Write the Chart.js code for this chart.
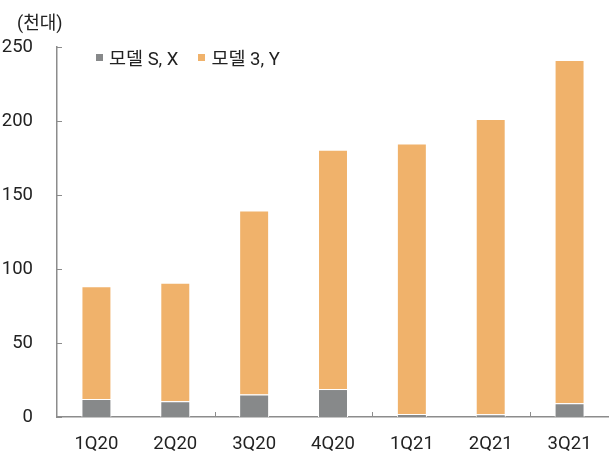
<!DOCTYPE html>
<html>
<head>
<meta charset="utf-8">
<script src="https://cdn.jsdelivr.net/npm/chart.js@4/dist/chart.umd.min.js"></script>
<style>
  html, body { margin:0; padding:0; background:#fff; }
  #wrap { position:relative; width:609px; height:451px; font-family:Roboto,'Noto Sans CJK KR',sans-serif; color:#222; }
  canvas { position:absolute; left:0; top:0; }
  .unit { position:absolute; left:17px; top:8px; font-size:18px; }
  .legend { position:absolute; left:96px; top:44px; font-size:18.5px; display:flex; align-items:center; }
  .legend span.box { display:inline-block; width:7px; height:7px; margin-right:6px; }
  .legend .item { display:flex; align-items:center; margin-right:20px; }
</style>
</head>
<body>
<div id="wrap">
  <canvas id="c" width="609" height="451"></canvas>
  <div class="unit">(천대)</div>
  <div class="legend" id="legend"></div>
</div>
<script>
// quarterly deliveries, thousand units
const quarters = ['1Q20','2Q20','3Q20','4Q20','1Q21','2Q21','3Q21'];
const modelSX = [12.2, 10.6, 15.2, 18.9, 2.0, 1.9, 9.3];
const model3Y = [76.2, 80.1, 124.3, 161.7, 182.8, 199.4, 232.0];
const seriesNames = ['모델 S, X', '모델 3, Y'];
const colors = ['#87898a', '#f0b26b'];

const axisColor = '#8c8c8c';
const fontFamily = "Roboto,'Noto Sans CJK KR',sans-serif";

// Excel-style inside tick marks
const insideTicks = {
  id: 'insideTicks',
  afterDraw(chart) {
    const ctx = chart.ctx, x = chart.scales.x, y = chart.scales.y;
    ctx.save();
    ctx.strokeStyle = axisColor;
    ctx.lineWidth = 1;
    ctx.beginPath();
    y.ticks.forEach(t => {
      const py = Math.round(y.getPixelForValue(t.value)) + 0.5;
      ctx.moveTo(x.left, py); ctx.lineTo(x.left + 5, py);
    });
    const step = (x.right - x.left) / quarters.length;
    for (let i = 2; i < quarters.length; i += 2) {
      const px = Math.round(x.left + i * step) + 0.5;
      ctx.moveTo(px, y.bottom); ctx.lineTo(px, y.bottom - 5);
    }
    ctx.stroke();
    ctx.restore();
  }
};

new Chart(document.getElementById('c'), {
  type: 'bar',
  data: {
    labels: quarters,
    datasets: [
      { label: seriesNames[0], data: modelSX, backgroundColor: colors[0], borderColor: '#fff', borderWidth: 1 },
      { label: seriesNames[1], data: model3Y, backgroundColor: colors[1], borderColor: '#fff', borderWidth: 1 }
    ]
  },
  options: {
    responsive: false,
    animation: false,
    devicePixelRatio: 1,
    barPercentage: 0.76,
    categoryPercentage: 0.5,
    layout: { padding: { top: 47, right: 0, left: 0, bottom: 0 } },
    plugins: { legend: { display: false }, tooltip: { enabled: false } },
    scales: {
      x: {
        stacked: true,
        grid: { display: false },
        border: { color: axisColor, width: 1.5 },
        ticks: { color: '#222', font: { family: fontFamily, size: 18.5 }, padding: 8 },
        afterFit: s => { s.height = 34; }
      },
      y: {
        stacked: true,
        min: 0, max: 250,
        grid: { display: false },
        border: { color: axisColor, width: 1.5 },
        ticks: { stepSize: 50, color: '#222', font: { family: fontFamily, size: 18.5 }, padding: 16 },
        afterFit: s => { s.width = 57; }
      }
    }
  },
  plugins: [insideTicks]
});

const lg = document.getElementById('legend');
seriesNames.forEach((n, i) => {
  lg.innerHTML += `<div class="item"><span class="box" style="background:${colors[i]}"></span>${n}</div>`;
});
</script>
</body>
</html>
